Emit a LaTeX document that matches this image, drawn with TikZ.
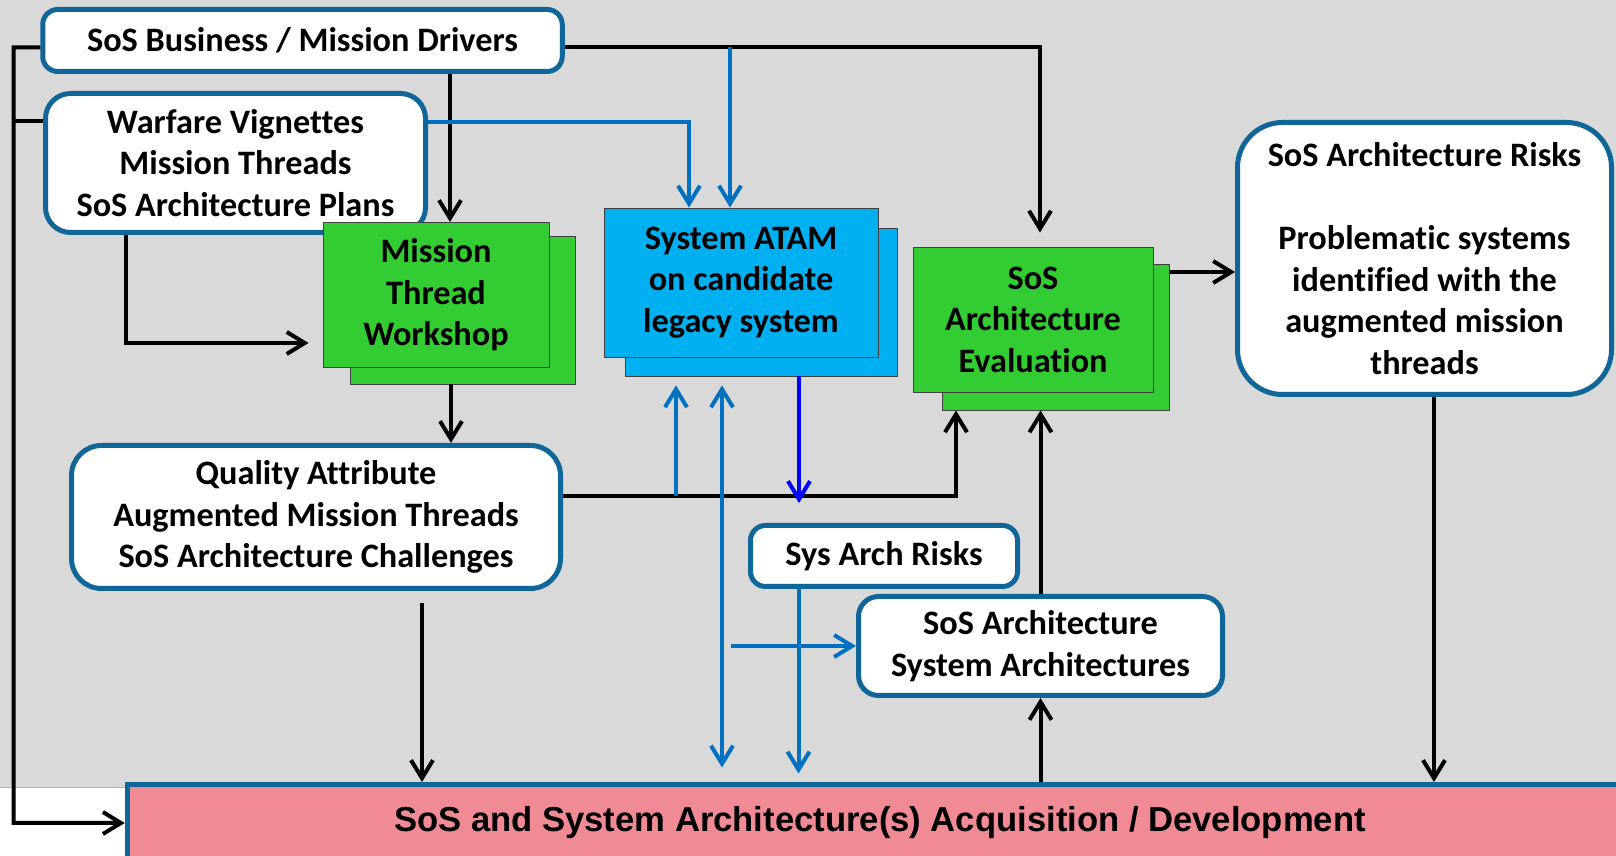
\documentclass[tikz,border=0pt]{standalone}
\usepackage{fontspec}
\setmainfont[Ligatures=NoCommon]{Carlito}
\newfontfamily\arialfont{Liberation Sans}
\usepackage{tikz}
\usetikzlibrary{arrows.meta}
\definecolor{slidegray}{HTML}{D9D9D9}
\definecolor{frameblue}{HTML}{116699}
\definecolor{lineblue}{HTML}{0070C0}
\definecolor{puregreen}{HTML}{33CC33}
\definecolor{skyblue}{HTML}{00B0F0}
\definecolor{salmonpink}{HTML}{F08A94}

\begin{document}
\begin{tikzpicture}[>={Straight Barb[length=3.6mm,width=4.4mm]}, font=\fontsize{19.5}{23.6}\selectfont\bfseries,
		every node/.style={align=center, inner sep=0pt},
		wbox/.style={rectangle, rounded corners=#1, fill=white, draw=frameblue, line width=1mm}, wbox/.default=3mm,
		gbox/.style={rectangle, fill=puregreen, draw=black!75, line width=0.5pt},
		cbox/.style={rectangle, fill=skyblue, draw=black!75, line width=0.5pt},
		blk/.style={draw=black, line width=0.8mm, ->},
		bl/.style={draw=lineblue, line width=0.8mm, ->},
		pb/.style={draw=blue, line width=0.8mm, ->}]
			\useasboundingbox (0,0) rectangle (32.32,17.12);
			\fill [slidegray] (0,1.38) rectangle (32.32,17.12);
			\draw [black!30, line width=0.3pt] (0,1.38) -- (32.32,1.38);
			% boxes
			\node [wbox, minimum width=10.39cm, minimum height=1.24cm] (D) at (6.05,16.31) {SoS Business / Mission Drivers};
			\node [wbox=5mm, minimum width=7.6cm, minimum height=2.78cm] (W) at (4.71,13.86) {Warfare Vignettes\\Mission Threads\\SoS Architecture Plans};
			\node [gbox, minimum width=4.5cm, minimum height=2.96cm] (M2) at (9.25,10.92) {};
			\node [gbox, minimum width=4.52cm, minimum height=2.9cm] (M1) at (8.72,11.22) {Mission\\Thread\\Workshop};
			\node [cbox, minimum width=5.44cm, minimum height=2.96cm] (T2) at (15.22,11.08) {};
			\node [cbox, minimum width=5.48cm, minimum height=2.98cm] (T1) at (14.82,11.47) {System ATAM\\on candidate\\legacy system};
			\node [gbox, minimum width=4.54cm, minimum height=2.92cm] (E2) at (21.11,10.38) {};
			\node [gbox, minimum width=4.8cm, minimum height=2.9cm] (E1) at (20.66,10.73) {SoS\\Architecture\\Evaluation};
			\node [wbox=9mm, minimum width=7.48cm, minimum height=5.44cm] (K) at (28.49,11.95) {SoS Architecture Risks\\[23.6pt]Problematic systems\\identified with the\\augmented mission\\threads};
			\node [wbox=6mm, minimum width=9.78cm, minimum height=2.86cm] (Q) at (6.32,6.78) {Quality Attribute\\Augmented Mission Threads\\SoS Architecture Challenges};
			\node [wbox, minimum width=5.34cm, minimum height=1.22cm] (S) at (17.68,6.00) {Sys Arch Risks};
			\node [wbox=4mm, minimum width=7.28cm, minimum height=1.98cm] (R) at (20.81,4.20) {SoS Architecture\\System Architectures};
			\node [rectangle, fill=salmonpink, draw=frameblue, line width=1mm, minimum width=30.11cm, minimum height=1.54cm, font=\arialfont\fontsize{19.7}{24}\selectfont\bfseries] (P) at (17.6,0.66) {SoS and System Architecture(s) Acquisition / Development};
			% junctions
			\coordinate (L1) at (0.27,16.17);
			\coordinate (J1) at (14.6,16.17);
			\coordinate (J2) at (13.52,7.2);
			\coordinate (J3) at (15.98,7.06);
			\coordinate (J4) at (14.62,4.20);
			% black flows
			\draw [blk] ([yshift=-0.14cm]D.west) -- (L1) |- (P.west);
			\draw [blk, -] ([yshift=0.84cm]W.west) -- ([yshift=0.84cm]W.west -| L1);
			\draw [blk, shorten >=0.28cm] ([yshift=-0.14cm]D.east) -| ([xshift=0.14cm]E1.north);
			\draw [blk] ([xshift=2.95cm]D.south) -- ([xshift=2.95cm]D.south |- M1.north);
			\draw [blk, shorten >=0.28cm] ([xshift=-2.19cm]W.south) |- ([yshift=-0.96cm]M1.west);
			\draw [blk] ([xshift=-0.23cm]M2.south) -- ([xshift=-0.23cm]M2.south |- Q.north);
			\draw [blk] ([yshift=0.42cm]Q.east) -| ([xshift=-1.99cm]E2.south);
			\draw [blk] (R.north) -- (R.north |- E2.south);
			\draw [blk] (R.south |- P.north) -- (R.south);
			\draw [blk, shorten <=0.24cm] ([xshift=2.12cm]Q.south) -- ([xshift=2.12cm]Q.south |- P.north);
			\draw [blk] ([xshift=0.19cm]K.south) -- ([xshift=0.19cm]K.south |- P.north);
			\draw [blk] ([yshift=1.30cm]E2.east) -- ([yshift=1.30cm]E2.east -| K.west);
			% blue flows
			\draw [bl] (J1) -- (J1 |- T1.north);
			\draw [bl] ([yshift=0.82cm]W.east) -| ([xshift=-1.04cm]T1.north);
			\draw [bl, shorten >=0.18cm] (J2) -- (J2 |- T2.south);
			\draw [bl, <->, shorten <=0.18cm, shorten >=0.29cm] ([xshift=-0.78cm]T2.south) -- ([xshift=-0.78cm]T2.south |- P.north);
			\draw [pb] ([xshift=0.76cm]T2.south) -- (J3);
			\draw [bl, shorten >=0.17cm] ([xshift=-1.71cm]S.south) -- ([xshift=-1.71cm]S.south |- P.north);
			\draw [bl] (J4) -- (R.west);
		\end{tikzpicture}
\end{document}
